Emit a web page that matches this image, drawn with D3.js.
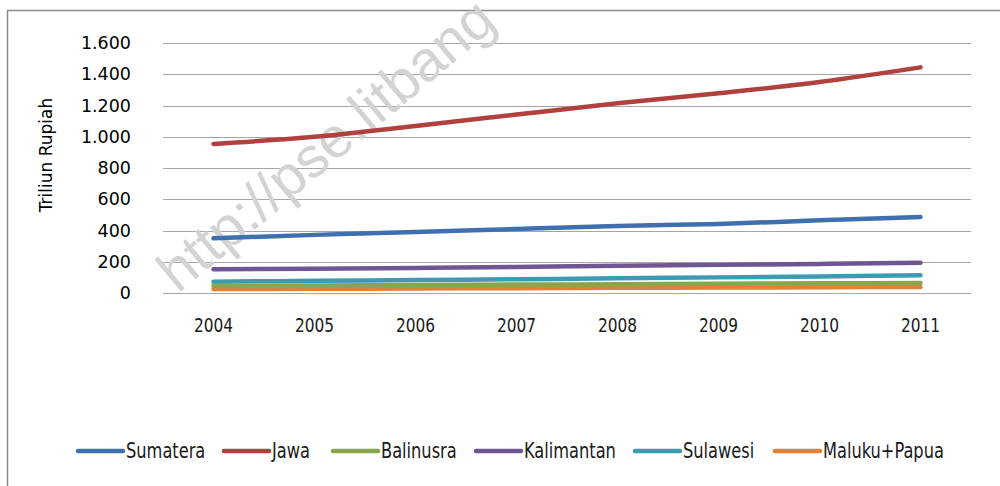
<!DOCTYPE html>
<html>
<head>
<meta charset="utf-8">
<script src="https://cdn.jsdelivr.net/npm/d3@7"></script>
<style>
  body { margin: 0; background: #fff; }
  svg { display: block; }
</style>
</head>
<body>
<script>
  // data (Triliun Rupiah)
  const years = ['2004', '2005', '2006', '2007', '2008', '2009', '2010', '2011'];
  const regions = ['Sumatera', 'Jawa', 'Balinusra', 'Kalimantan', 'Sulawesi', 'Maluku+Papua'];
  const sumatera = [350, 372, 390, 410, 429, 442, 465, 487];
  const jawa = [954, 1000, 1069, 1142, 1214, 1278, 1350, 1444];
  const balinusra = [46, 48, 51, 54, 56, 59, 62, 64];
  const kalimantan = [152, 155, 160, 167, 175, 180, 186, 194];
  const sulawesi = [72, 78, 83, 88, 94, 100, 106, 113];
  const malukuPapua = [26, 27, 29, 31, 33, 35, 37, 39];
  const yTicks = [0, 200, 400, 600, 800, 1000, 1200, 1400, 1600];
  const colors = ['#3f6fae', '#b0413e', '#8aa64a', '#6f5592', '#3d9ab3', '#e0813a'];

  const seriesValues = [sumatera, jawa, balinusra, kalimantan, sulawesi, malukuPapua];
  const series = regions.map((name, i) => ({
    name,
    color: colors[i],
    values: seriesValues[i].map((v, j) => ({ year: years[j], value: v }))
  }));

  const width = 1000;
  const height = 486;
  const margin = { top: 43, right: 29, bottom: 193, left: 163 };
  const narrow = "'DejaVu Sans Condensed', sans-serif";

  const svg = d3.select('body').append('svg')
    .attr('width', width)
    .attr('height', height);

  // outer chart border
  svg.append('rect')
    .attr('x', 7.5).attr('y', 10.5)
    .attr('width', 1010).attr('height', 500)
    .attr('fill', 'none')
    .attr('stroke', '#8c8c8c')
    .attr('stroke-width', 1.5);

  const x = d3.scaleBand()
    .domain(years)
    .range([margin.left, width - margin.right]);

  const y = d3.scaleLinear()
    .domain([0, 1600])
    .range([height - margin.bottom, margin.top]);

  const fmt = (d) => d3.format(',')(d).replace(/,/g, '.');

  // gridlines
  svg.append('g')
    .selectAll('line')
    .data(yTicks)
    .join('line')
    .attr('x1', margin.left)
    .attr('x2', width - margin.right)
    .attr('y1', (d) => Math.round(y(d)) + 0.5)
    .attr('y2', (d) => Math.round(y(d)) + 0.5)
    .attr('stroke', '#a6a6a6')
    .attr('stroke-width', 1.2);

  // y tick labels
  svg.append('g')
    .selectAll('text')
    .data(yTicks)
    .join('text')
    .attr('x', 131)
    .attr('y', (d) => y(d) + 6)
    .attr('text-anchor', 'end')
    .attr('font-family', 'DejaVu Sans')
    .attr('font-size', 17.5)
    .attr('fill', '#000')
    .text(fmt);

  // y axis title
  svg.append('text')
    .attr('transform', 'translate(52,155) rotate(-90)')
    .attr('text-anchor', 'middle')
    .attr('font-family', 'DejaVu Sans')
    .attr('font-size', 17)
    .attr('fill', '#000')
    .text('Triliun Rupiah');

  // watermark
  svg.append('text')
    .attr('transform', 'translate(178,294) rotate(-40)')
    .attr('font-family', 'Liberation Sans, sans-serif')
    .attr('font-size', 57)
    .attr('fill', '#d3d3d3')
    .text('http://pse.litbang');

  // x labels (squeezed horizontally to mimic the narrow font)
  svg.append('g')
    .selectAll('text')
    .data(years)
    .join('text')
    .attr('transform', (d) => `translate(${x(d) + x.bandwidth() / 2},332) scale(0.9,1)`)
    .attr('text-anchor', 'middle')
    .attr('font-family', narrow)
    .attr('font-size', 19)
    .attr('fill', '#1a1a1a')
    .text((d) => d);

  // lines
  const line = d3.line()
    .x((d) => x(d.year) + x.bandwidth() / 2)
    .y((d) => y(d.value))
    .curve(d3.curveMonotoneX);

  svg.append('g')
    .selectAll('path')
    .data(series.slice().reverse())
    .join('path')
    .attr('d', (d) => line(d.values))
    .attr('fill', 'none')
    .attr('stroke', (d) => d.color)
    .attr('stroke-width', 4.5)
    .attr('stroke-linecap', 'round')
    .attr('stroke-linejoin', 'round');

  // legend
  const legendX = [78, 224, 333, 476, 635, 775];
  const legend = svg.append('g')
    .selectAll('g')
    .data(series)
    .join('g')
    .attr('transform', (d, i) => `translate(${legendX[i]},451)`);

  legend.append('line')
    .attr('x1', 0).attr('x2', 45)
    .attr('stroke', (d) => d.color)
    .attr('stroke-width', 4.5)
    .attr('stroke-linecap', 'round');

  legend.append('text')
    .attr('transform', 'translate(48,7) scale(0.88,1)')
    .attr('font-family', narrow)
    .attr('font-size', 20.5)
    .attr('fill', '#1a1a1a')
    .text((d) => d.name);
</script>
</body>
</html>
